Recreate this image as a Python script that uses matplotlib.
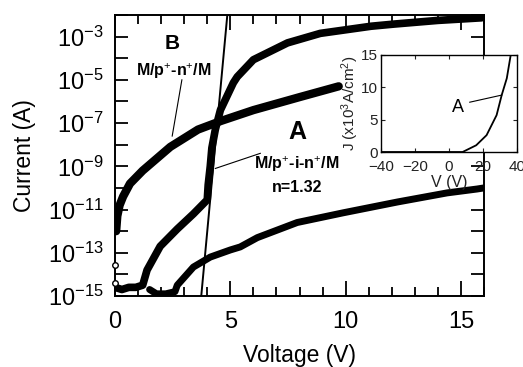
import numpy as np
import matplotlib
matplotlib.use("Agg")
import matplotlib.pyplot as plt

plt.rcParams['font.family'] = ['Liberation Sans', 'DejaVu Sans']
plt.rcParams['mathtext.fontset'] = 'custom'
plt.rcParams['mathtext.rm'] = 'Liberation Sans'
plt.rcParams['mathtext.it'] = 'Liberation Sans:italic'
plt.rcParams['mathtext.bf'] = 'Liberation Sans:bold'

# ---- data (log10 of current in A) ----
# Curve B : M/p+-n+/M
vB = [0.05, 0.1, 0.2, 0.35, 0.65, 1.2, 2.4, 3.6, 4.6, 6.0, 8.0, 9.7]
logB = [-12.0, -11.3, -10.8, -10.4, -9.8, -9.2, -8.1, -7.3, -6.9, -6.4, -5.8, -5.3]

# Curve A : M/p+-i-n+/M (forward)
vA = [0.0, 0.3, 0.6, 0.9, 1.2, 1.39, 1.96, 2.7, 3.4, 4.0, 4.04, 4.13, 4.2, 4.35,
      4.57, 5.13, 5.3, 6.0, 7.48, 8.9, 11.1, 12.1, 14.0, 15.9]
logA = [-14.6, -14.7, -14.6, -14.6, -14.5, -13.8, -12.7, -11.9, -11.2, -10.55, -9.86,
        -9.0, -8.15, -7.3, -6.4, -5.14, -4.86, -4.07, -3.29, -2.85, -2.52,
        -2.42, -2.25, -2.13]

# Lower curve
vC = [1.5, 1.8, 2.2, 2.6, 2.7, 3.4, 4.13, 5.0, 5.43, 6.17, 7.9, 9.9, 12.25, 14.4, 15.7, 16.0]
logC = [-14.7, -14.9, -14.9, -14.8, -14.5, -13.66, -13.2, -12.87, -12.73, -12.3, -11.6,
        -11.15, -10.65, -10.23, -10.05, -10.0]

# Ideality fit line (n=1.32)
vFit = [3.74, 4.87]
logFit = [-15.0, -2.0]

# Inset J-V curve A
vIn = [-40, 0, 8, 16, 22.1, 28, 31, 34, 36.3]
jIn = [0, 0, 0, 1.04, 2.6, 5.7, 8.8, 11.4, 15.0]

xticks = [0, 5, 10, 15]
yexp = [-15, -13, -11, -9, -7, -5, -3]

fig = plt.figure(figsize=(5.23, 3.67), dpi=100)
ax = fig.add_axes([115/523, 1-296/367, (484-115)/523, (296-15)/367])

ax.plot(vB, 10.0**np.array(logB), color='black', lw=6, solid_capstyle='round')
ax.plot(vA, 10.0**np.array(logA), color='black', lw=5.5, solid_capstyle='round')
ax.plot(vC, 10.0**np.array(logC), color='black', lw=5, solid_capstyle='round')
ax.plot(vFit, 10.0**np.array(logFit), color='black', lw=1.4)
ax.plot([0.0, 0.0], [10**-13.56, 10**-14.4], 'o', mfc='white', mec='black', ms=4,
        clip_on=False, zorder=5)

ax.set_yscale('log')
ax.set_xlim(0, 16)
ax.set_ylim(1e-15, 1e-2)
ax.set_xticks(xticks)
ax.set_xticks(np.arange(0, 17, 1), minor=True)
ax.set_yticks([10.0**e for e in yexp])
ax.set_yticklabels([r'$10^{%d}$' % e for e in yexp])
ax.set_yticks([10.0**e for e in range(-14, -1, 2)], minor=True)
ax.yaxis.set_minor_formatter(matplotlib.ticker.NullFormatter())
ax.tick_params(which='both', direction='in', top=True, right=True, width=1.3, colors='black')
ax.tick_params(axis='x', which='major', length=11, labelsize=17, pad=11)
ax.tick_params(axis='x', which='minor', length=6.5)
ax.tick_params(axis='y', which='both', length=9.5, labelsize=17, pad=8)
for s in ax.spines.values():
    s.set_linewidth(1.4)
ax.set_xlabel('Voltage (V)', fontsize=16.5, labelpad=8)
ax.set_ylabel('Current (A)', fontsize=16.5, labelpad=9)

# annotations
ax.text(2.5, 10**-3.3, 'B', fontsize=15, fontweight='bold', ha='center', va='center')
ax.text(2.55, 10**-4.6, r'M/p$^{+}$-n$^{+}$/M', fontsize=11.5, fontweight='bold', ha='center', va='center')
ax.plot([2.9, 2.48], [10**-5.0, 10**-7.6], color='black', lw=0.8)
ax.text(7.9, 10**-7.4, 'A', fontsize=18, fontweight='bold', ha='center', va='center')
ax.text(7.9, 10**-8.9, r'M/p$^{+}$-i-n$^{+}$/M', fontsize=11.5, fontweight='bold', ha='center', va='center')
ax.text(7.9, 10**-10.0, 'n=1.32', fontsize=11.5, fontweight='bold', ha='center', va='center')
ax.plot([4.35, 6.3], [10**-9.1, 10**-8.4], color='black', lw=0.8)

# inset
axi = fig.add_axes([381/523, 1-152/367, (517-381)/523, (152-55)/367])
axi.plot(vIn, jIn, color='black', lw=1.3)
axi.set_xlim(-40, 40)
axi.set_ylim(0, 15)
axi.set_xticks([-40, -20, 0, 20, 40])
axi.set_yticks([0, 5, 10, 15])
axi.tick_params(which='both', direction='in', top=True, right=True, length=3,
                labelsize=11, colors='#222222')
axi.tick_params(axis='x', pad=6)
axi.tick_params(axis='y', pad=2)
for s in axi.spines.values():
    s.set_linewidth(1.0)
axi.set_xlabel('V (V)', fontsize=11.5, labelpad=0.5, color='#222222')
axi.set_ylabel(r'J (x10$^{3}$A/cm$^{2}$)', fontsize=11, labelpad=0, color='#222222')
axi.text(5, 6.9, 'A', fontsize=13, ha='center', va='center')
axi.plot([12.2, 31], [7.7, 8.8], color='black', lw=0.8)

fig.savefig('out.png', dpi=100)
